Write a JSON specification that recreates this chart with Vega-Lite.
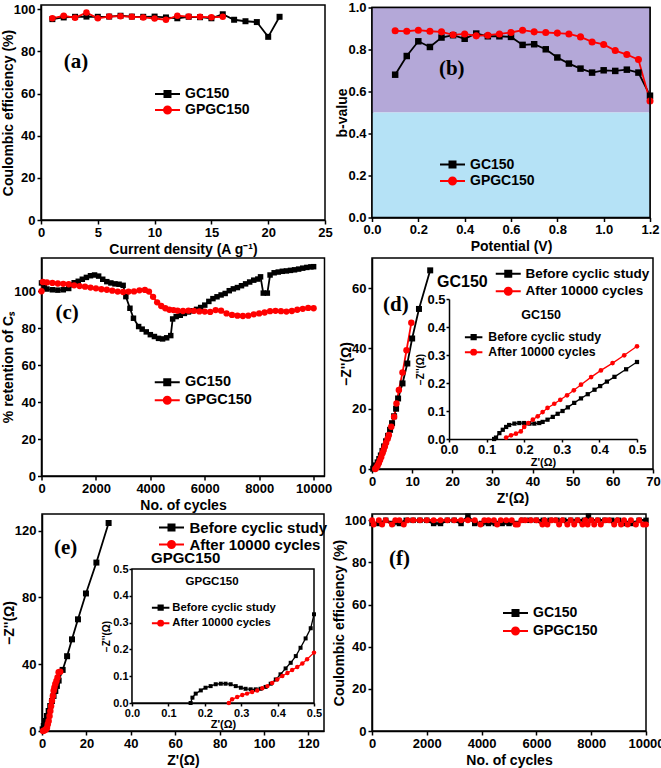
{
"$schema":"https://vega.github.io/schema/vega-lite/v6.json",
"background":"white",
"padding":{"left":0,"top":0,"right":0,"bottom":0},
"config":{
 "font":"Liberation Sans",
 "view":{"stroke":"black","strokeWidth":1.5},
 "axis":{"domainColor":"black","domainWidth":1.5,"tickColor":"black","tickWidth":1.5,"tickSize":4,"labelFont":"Liberation Sans","labelFontWeight":"bold","labelFontSize":13,"labelColor":"black","labelPadding":2,"labelFlush":false,"labelOverlap":false,"titleFont":"Liberation Sans","titleFontWeight":"bold","titleFontSize":14,"titleColor":"black","titlePadding":3,"grid":false,"zindex":1},
 "axisY":{"titlePadding":-2},
 "legend":{"labelFont":"Liberation Sans","labelFontWeight":"bold","labelColor":"black","padding":0,"symbolStrokeWidth":2,"symbolOpacity":1,"labelLimit":400},
 "text":{"font":"Liberation Sans","fontWeight":"bold","color":"black"}
},
"columns":2,
"spacing":{"row":38,"column":47},
"bounds":"flush",
"center":true,
"resolve":{"scale":{"color":"independent","shape":"independent","fill":"independent","stroke":"independent"}},
"concat":[
  {"width":284,"height":215,
   "data":{"values":[
    {"x":1,"y":95.3,"s":"GC150"},{"x":2,"y":96.1,"s":"GC150"},{"x":3,"y":96.4,"s":"GC150"},{"x":4,"y":96.5,"s":"GC150"},{"x":5,"y":96.4,"s":"GC150"},{"x":6,"y":96.5,"s":"GC150"},{"x":7,"y":96.9,"s":"GC150"},{"x":8,"y":96.5,"s":"GC150"},{"x":9,"y":96.4,"s":"GC150"},{"x":10,"y":96.5,"s":"GC150"},{"x":11,"y":96.1,"s":"GC150"},{"x":12,"y":95.7,"s":"GC150"},{"x":13,"y":96.4,"s":"GC150"},{"x":14,"y":96.2,"s":"GC150"},{"x":15,"y":95.7,"s":"GC150"},{"x":16,"y":97.6,"s":"GC150"},{"x":17,"y":95.0,"s":"GC150"},{"x":18,"y":94.3,"s":"GC150"},{"x":19,"y":93.9,"s":"GC150"},{"x":20,"y":86.9,"s":"GC150"},{"x":21,"y":96.4,"s":"GC150"},
    {"x":1,"y":95.7,"s":"GPGC150"},{"x":2,"y":96.9,"s":"GPGC150"},{"x":3,"y":95.9,"s":"GPGC150"},{"x":4,"y":98.4,"s":"GPGC150"},{"x":5,"y":95.7,"s":"GPGC150"},{"x":6,"y":96.5,"s":"GPGC150"},{"x":7,"y":96.7,"s":"GPGC150"},{"x":8,"y":96.4,"s":"GPGC150"},{"x":9,"y":96.1,"s":"GPGC150"},{"x":10,"y":95.6,"s":"GPGC150"},{"x":11,"y":95.0,"s":"GPGC150"},{"x":12,"y":96.9,"s":"GPGC150"},{"x":13,"y":96.5,"s":"GPGC150"},{"x":14,"y":96.4,"s":"GPGC150"},{"x":15,"y":96.2,"s":"GPGC150"},{"x":16,"y":96.4,"s":"GPGC150"}
   ]},
   "layer":[
    {"mark":{"type":"point","opacity":0,"size":100,"strokeWidth":2,"filled":true},
     "encoding":{
      "x":{"field":"x","type":"quantitative","scale":{"domain":[0,25],"nice":false}},
      "y":{"field":"y","type":"quantitative","scale":{"domain":[0,102],"nice":false}},
      "fill":{"field":"s","type":"nominal","scale":{"domain":["GC150","GPGC150"],"range":["black","#ff0000"]},"legend":{"orient":"none","legendX":119.5,"legendY":82,"title":null,"symbolSize":100,"labelFontSize":14,"rowPadding":1,"labelOffset":10.5}},
      "stroke":{"field":"s","type":"nominal","scale":{"domain":["GC150","GPGC150"],"range":["black","#ff0000"]},"legend":{"orient":"none","legendX":119.5,"legendY":82,"title":null,"symbolSize":100,"labelFontSize":14,"rowPadding":1,"labelOffset":10.5}},
      "shape":{"field":"s","type":"nominal","scale":{"domain":["GC150","GPGC150"],"range":["M-2.5,0H2.5M-0.6,-0.6H0.6V0.6H-0.6Z","M-2.5,0H2.5M0.7,0A0.7,0.7,0,1,1,-0.7,0A0.7,0.7,0,1,1,0.7,0Z"]},"legend":{"orient":"none","legendX":119.5,"legendY":82,"title":null,"symbolSize":100,"labelFontSize":14,"rowPadding":1,"labelOffset":10.5}}}},
    {"mark":{"type":"line","strokeWidth":1.8},
     "encoding":{
      "x":{"field":"x","type":"quantitative","scale":{"domain":[0,25],"nice":false},"axis":{"values":[0,2.5,5,7.5,10,12.5,15,17.5,20,22.5,25],"labelExpr":"datum.value % 5 === 0 ? datum.label : ''","tickSize":{"condition":{"test":"datum.value % 5 !== 0","value":2.5},"value":4},"title":"Current density (A g⁻¹)"}},
      "y":{"field":"y","type":"quantitative","scale":{"domain":[0,102],"nice":false},"axis":{"values":[0,10,20,30,40,50,60,70,80,90,100],"labelExpr":"datum.value % 20 === 0 ? datum.label : ''","tickSize":{"condition":{"test":"datum.value % 20 !== 0","value":2.5},"value":4},"title":"Coulombic efficiency (%)"}},
      "stroke":{"field":"s","type":"nominal","scale":{"domain":["GC150","GPGC150"],"range":["black","#ff0000"]},"legend":{"orient":"none","legendX":119.5,"legendY":82,"title":null,"symbolSize":100,"labelFontSize":14,"rowPadding":1,"labelOffset":10.5}}}},
    {"transform":[{"filter":"datum.s == 'GC150'"}],"mark":{"type":"square","size":36,"opacity":1,"color":"black"},
     "encoding":{"x":{"field":"x","type":"quantitative","scale":{"domain":[0,25],"nice":false}},"y":{"field":"y","type":"quantitative","scale":{"domain":[0,102],"nice":false}}}},
    {"transform":[{"filter":"datum.s == 'GPGC150'"}],"mark":{"type":"circle","size":42,"opacity":1,"color":"#ff0000"},
     "encoding":{"x":{"field":"x","type":"quantitative","scale":{"domain":[0,25],"nice":false}},"y":{"field":"y","type":"quantitative","scale":{"domain":[0,102],"nice":false}}}},
    {"data":{"values":[{}]},
     "mark":{"type":"text","text":"(a)","font":"Liberation Serif","fontSize":21,"fontWeight":"bold","align":"left","baseline":"middle","color":"black"},
     "encoding":{"x":{"datum":2,"type":"quantitative","scale":{"domain":[0,25],"nice":false}},"y":{"datum":75,"type":"quantitative","scale":{"domain":[0,102],"nice":false}}}}
   ]},
  {"width":278,"height":210,
   "data":{"values":[
    {"x":0.1,"y":0.680,"s":"GC150"},{"x":0.15,"y":0.769,"s":"GC150"},{"x":0.2,"y":0.839,"s":"GC150"},{"x":0.25,"y":0.812,"s":"GC150"},{"x":0.3,"y":0.857,"s":"GC150"},{"x":0.35,"y":0.868,"s":"GC150"},{"x":0.4,"y":0.851,"s":"GC150"},{"x":0.45,"y":0.876,"s":"GC150"},{"x":0.5,"y":0.863,"s":"GC150"},{"x":0.55,"y":0.863,"s":"GC150"},{"x":0.6,"y":0.860,"s":"GC150"},{"x":0.65,"y":0.822,"s":"GC150"},{"x":0.7,"y":0.825,"s":"GC150"},{"x":0.75,"y":0.801,"s":"GC150"},{"x":0.8,"y":0.762,"s":"GC150"},{"x":0.85,"y":0.733,"s":"GC150"},{"x":0.9,"y":0.709,"s":"GC150"},{"x":0.95,"y":0.690,"s":"GC150"},{"x":1.0,"y":0.701,"s":"GC150"},{"x":1.05,"y":0.698,"s":"GC150"},{"x":1.1,"y":0.704,"s":"GC150"},{"x":1.15,"y":0.690,"s":"GC150"},{"x":1.2,"y":0.58,"s":"GC150"},
    {"x":0.1,"y":0.889,"s":"GPGC150"},{"x":0.15,"y":0.887,"s":"GPGC150"},{"x":0.2,"y":0.892,"s":"GPGC150"},{"x":0.25,"y":0.887,"s":"GPGC150"},{"x":0.3,"y":0.884,"s":"GPGC150"},{"x":0.35,"y":0.870,"s":"GPGC150"},{"x":0.4,"y":0.874,"s":"GPGC150"},{"x":0.45,"y":0.865,"s":"GPGC150"},{"x":0.5,"y":0.868,"s":"GPGC150"},{"x":0.55,"y":0.874,"s":"GPGC150"},{"x":0.6,"y":0.881,"s":"GPGC150"},{"x":0.65,"y":0.892,"s":"GPGC150"},{"x":0.7,"y":0.884,"s":"GPGC150"},{"x":0.75,"y":0.881,"s":"GPGC150"},{"x":0.8,"y":0.878,"s":"GPGC150"},{"x":0.85,"y":0.874,"s":"GPGC150"},{"x":0.9,"y":0.860,"s":"GPGC150"},{"x":0.95,"y":0.836,"s":"GPGC150"},{"x":1.0,"y":0.824,"s":"GPGC150"},{"x":1.05,"y":0.795,"s":"GPGC150"},{"x":1.1,"y":0.776,"s":"GPGC150"},{"x":1.15,"y":0.752,"s":"GPGC150"},{"x":1.2,"y":0.555,"s":"GPGC150"}
   ]},
   "layer":[
    {"data":{"values":[{}]},"mark":{"type":"rect","color":"#b4a8d8"},
     "encoding":{"x":{"datum":0,"type":"quantitative","scale":{"domain":[0,1.2],"nice":false}},"x2":{"datum":1.2},"y":{"datum":0.5,"type":"quantitative","scale":{"domain":[0,1],"nice":false}},"y2":{"datum":1}}},
    {"data":{"values":[{}]},"mark":{"type":"rect","color":"#b5e2f6"},
     "encoding":{"x":{"datum":0,"type":"quantitative","scale":{"domain":[0,1.2],"nice":false}},"x2":{"datum":1.2},"y":{"datum":0,"type":"quantitative","scale":{"domain":[0,1],"nice":false}},"y2":{"datum":0.5}}},
    {"mark":{"type":"point","opacity":0,"size":100,"strokeWidth":2,"filled":true},
     "encoding":{
      "x":{"field":"x","type":"quantitative","scale":{"domain":[0,1.2],"nice":false}},
      "y":{"field":"y","type":"quantitative","scale":{"domain":[0,1],"nice":false}},
      "fill":{"field":"s","type":"nominal","scale":{"domain":["GC150","GPGC150"],"range":["black","#ff0000"]},"legend":{"orient":"none","legendX":73.5,"legendY":150,"title":null,"symbolSize":100,"labelFontSize":14,"rowPadding":1.5,"labelOffset":10.5}},
      "stroke":{"field":"s","type":"nominal","scale":{"domain":["GC150","GPGC150"],"range":["black","#ff0000"]},"legend":{"orient":"none","legendX":73.5,"legendY":150,"title":null,"symbolSize":100,"labelFontSize":14,"rowPadding":1.5,"labelOffset":10.5}},
      "shape":{"field":"s","type":"nominal","scale":{"domain":["GC150","GPGC150"],"range":["M-2.5,0H2.5M-0.6,-0.6H0.6V0.6H-0.6Z","M-2.5,0H2.5M0.7,0A0.7,0.7,0,1,1,-0.7,0A0.7,0.7,0,1,1,0.7,0Z"]},"legend":{"orient":"none","legendX":73.5,"legendY":150,"title":null,"symbolSize":100,"labelFontSize":14,"rowPadding":1.5,"labelOffset":10.5}}}},
    {"mark":{"type":"line","strokeWidth":1.8},
     "encoding":{
      "x":{"field":"x","type":"quantitative","scale":{"domain":[0,1.2],"nice":false},"axis":{"values":[0,0.1,0.2,0.3,0.4,0.5,0.6,0.7,0.8,0.9,1,1.1,1.2],"format":".1f","labelExpr":"round(datum.value*10) % 2 === 0 ? datum.label : ''","tickSize":{"condition":{"test":"round(datum.value*10) % 2 !== 0","value":2.5},"value":4},"title":"Potential (V)"}},
      "y":{"field":"y","type":"quantitative","scale":{"domain":[0,1],"nice":false},"axis":{"values":[0,0.1,0.2,0.3,0.4,0.5,0.6,0.7,0.8,0.9,1],"format":".1f","title":"b-value"}},
      "stroke":{"field":"s","type":"nominal","scale":{"domain":["GC150","GPGC150"],"range":["black","#ff0000"]},"legend":{"orient":"none","legendX":73.5,"legendY":150,"title":null,"symbolSize":100,"labelFontSize":14,"rowPadding":1.5,"labelOffset":10.5}}}},
    {"transform":[{"filter":"datum.s == 'GC150'"}],"mark":{"type":"square","size":42,"opacity":1,"color":"black"},
     "encoding":{"x":{"field":"x","type":"quantitative","scale":{"domain":[0,1.2],"nice":false}},"y":{"field":"y","type":"quantitative","scale":{"domain":[0,1],"nice":false}}}},
    {"transform":[{"filter":"datum.s == 'GPGC150'"}],"mark":{"type":"circle","size":50,"opacity":1,"color":"#ff0000"},
     "encoding":{"x":{"field":"x","type":"quantitative","scale":{"domain":[0,1.2],"nice":false}},"y":{"field":"y","type":"quantitative","scale":{"domain":[0,1],"nice":false}}}},
    {"data":{"values":[{}]},"mark":{"type":"rect","filled":false,"color":"black","strokeWidth":1.5},
     "encoding":{"x":{"datum":0,"type":"quantitative","scale":{"domain":[0,1.2],"nice":false}},"x2":{"datum":1.2},"y":{"datum":0,"type":"quantitative","scale":{"domain":[0,1],"nice":false}},"y2":{"datum":1}}},
    {"data":{"values":[{}]},
     "mark":{"type":"text","text":"(b)","font":"Liberation Serif","fontSize":21,"fontWeight":"bold","align":"left","baseline":"middle","color":"black"},
     "encoding":{"x":{"datum":0.289,"type":"quantitative","scale":{"domain":[0,1.2],"nice":false}},"y":{"datum":0.705,"type":"quantitative","scale":{"domain":[0,1],"nice":false}}}}
   ]},
  {"width":283,"height":218,
   "data":{"values":[
    {"x":0,"y":104.5,"s":"GC150"},{"x":100,"y":102,"s":"GC150"},{"x":200,"y":101.2,"s":"GC150"},{"x":400,"y":100.8,"s":"GC150"},{"x":600,"y":100.6,"s":"GC150"},{"x":800,"y":100.8,"s":"GC150"},{"x":1000,"y":101.5,"s":"GC150"},{"x":1100,"y":103.5,"s":"GC150"},{"x":1200,"y":104.6,"s":"GC150"},{"x":1350,"y":105.4,"s":"GC150"},{"x":1500,"y":106.5,"s":"GC150"},{"x":1650,"y":107.5,"s":"GC150"},{"x":1800,"y":108.4,"s":"GC150"},{"x":1950,"y":108.8,"s":"GC150"},{"x":2100,"y":108.2,"s":"GC150"},{"x":2250,"y":106.5,"s":"GC150"},{"x":2400,"y":105.2,"s":"GC150"},{"x":2550,"y":104.5,"s":"GC150"},{"x":2700,"y":104,"s":"GC150"},{"x":2850,"y":103.8,"s":"GC150"},{"x":3000,"y":103.2,"s":"GC150"},{"x":3100,"y":97.1,"s":"GC150"},{"x":3250,"y":90.8,"s":"GC150"},{"x":3380,"y":85.4,"s":"GC150"},{"x":3570,"y":80.9,"s":"GC150"},{"x":3700,"y":79.5,"s":"GC150"},{"x":3850,"y":78,"s":"GC150"},{"x":4000,"y":76.5,"s":"GC150"},{"x":4150,"y":75.5,"s":"GC150"},{"x":4300,"y":74.5,"s":"GC150"},{"x":4450,"y":74.2,"s":"GC150"},{"x":4600,"y":74.8,"s":"GC150"},{"x":4750,"y":76,"s":"GC150"},{"x":4820,"y":85,"s":"GC150"},{"x":4950,"y":86.3,"s":"GC150"},{"x":5100,"y":87,"s":"GC150"},{"x":5250,"y":88,"s":"GC150"},{"x":5400,"y":88.8,"s":"GC150"},{"x":5550,"y":89.4,"s":"GC150"},{"x":5700,"y":90.2,"s":"GC150"},{"x":5850,"y":91.2,"s":"GC150"},{"x":6000,"y":92.5,"s":"GC150"},{"x":6150,"y":94.5,"s":"GC150"},{"x":6300,"y":96,"s":"GC150"},{"x":6450,"y":97,"s":"GC150"},{"x":6600,"y":98,"s":"GC150"},{"x":6750,"y":98.8,"s":"GC150"},{"x":6900,"y":100.3,"s":"GC150"},{"x":7050,"y":101.3,"s":"GC150"},{"x":7200,"y":102,"s":"GC150"},{"x":7350,"y":103,"s":"GC150"},{"x":7500,"y":104,"s":"GC150"},{"x":7650,"y":105,"s":"GC150"},{"x":7800,"y":106,"s":"GC150"},{"x":7950,"y":106.6,"s":"GC150"},{"x":8050,"y":107.8,"s":"GC150"},{"x":8150,"y":99,"s":"GC150"},{"x":8300,"y":99,"s":"GC150"},{"x":8400,"y":108.8,"s":"GC150"},{"x":8550,"y":110,"s":"GC150"},{"x":8700,"y":110.4,"s":"GC150"},{"x":8850,"y":110.8,"s":"GC150"},{"x":9000,"y":111,"s":"GC150"},{"x":9150,"y":111.3,"s":"GC150"},{"x":9300,"y":111.6,"s":"GC150"},{"x":9450,"y":112,"s":"GC150"},{"x":9600,"y":112.5,"s":"GC150"},{"x":9750,"y":112.9,"s":"GC150"},{"x":9900,"y":113.2,"s":"GC150"},{"x":10000,"y":113.3,"s":"GC150"},
    {"x":0,"y":100,"s":"GPGC150"},{"x":50,"y":105,"s":"GPGC150"},{"x":200,"y":104.8,"s":"GPGC150"},{"x":400,"y":104.5,"s":"GPGC150"},{"x":600,"y":104.2,"s":"GPGC150"},{"x":800,"y":104,"s":"GPGC150"},{"x":1000,"y":103.8,"s":"GPGC150"},{"x":1200,"y":103.2,"s":"GPGC150"},{"x":1400,"y":102.8,"s":"GPGC150"},{"x":1600,"y":102.5,"s":"GPGC150"},{"x":1800,"y":102,"s":"GPGC150"},{"x":2000,"y":101.6,"s":"GPGC150"},{"x":2200,"y":101.1,"s":"GPGC150"},{"x":2400,"y":100.8,"s":"GPGC150"},{"x":2600,"y":100.3,"s":"GPGC150"},{"x":2800,"y":99.8,"s":"GPGC150"},{"x":3000,"y":99.6,"s":"GPGC150"},{"x":3200,"y":99.8,"s":"GPGC150"},{"x":3400,"y":99.9,"s":"GPGC150"},{"x":3600,"y":100.5,"s":"GPGC150"},{"x":3800,"y":100.7,"s":"GPGC150"},{"x":3950,"y":99.8,"s":"GPGC150"},{"x":4100,"y":97,"s":"GPGC150"},{"x":4250,"y":94,"s":"GPGC150"},{"x":4400,"y":92,"s":"GPGC150"},{"x":4550,"y":90.8,"s":"GPGC150"},{"x":4700,"y":90,"s":"GPGC150"},{"x":4850,"y":89.8,"s":"GPGC150"},{"x":5000,"y":89.5,"s":"GPGC150"},{"x":5200,"y":89.3,"s":"GPGC150"},{"x":5400,"y":89.5,"s":"GPGC150"},{"x":5600,"y":89.4,"s":"GPGC150"},{"x":5800,"y":89.1,"s":"GPGC150"},{"x":6000,"y":89,"s":"GPGC150"},{"x":6200,"y":88.8,"s":"GPGC150"},{"x":6400,"y":89.8,"s":"GPGC150"},{"x":6600,"y":89.5,"s":"GPGC150"},{"x":6800,"y":88,"s":"GPGC150"},{"x":7000,"y":87.2,"s":"GPGC150"},{"x":7200,"y":86.8,"s":"GPGC150"},{"x":7400,"y":86.6,"s":"GPGC150"},{"x":7600,"y":86.8,"s":"GPGC150"},{"x":7800,"y":87.5,"s":"GPGC150"},{"x":8000,"y":88,"s":"GPGC150"},{"x":8200,"y":88.5,"s":"GPGC150"},{"x":8400,"y":89.2,"s":"GPGC150"},{"x":8600,"y":89.4,"s":"GPGC150"},{"x":8800,"y":89.2,"s":"GPGC150"},{"x":9000,"y":89,"s":"GPGC150"},{"x":9200,"y":89.3,"s":"GPGC150"},{"x":9400,"y":90,"s":"GPGC150"},{"x":9600,"y":90.5,"s":"GPGC150"},{"x":9800,"y":91,"s":"GPGC150"},{"x":10000,"y":90.8,"s":"GPGC150"}
   ]},
   "layer":[
    {"mark":{"type":"point","opacity":0,"size":100,"strokeWidth":2,"filled":true},
     "encoding":{
      "x":{"field":"x","type":"quantitative","scale":{"domain":[0,10400],"nice":false}},
      "y":{"field":"y","type":"quantitative","scale":{"domain":[0,118],"nice":false}},
      "fill":{"field":"s","type":"nominal","scale":{"domain":["GC150","GPGC150"],"range":["black","#ff0000"]},"legend":{"orient":"none","legendX":118.5,"legendY":117,"title":null,"symbolSize":100,"labelFontSize":14.5,"rowPadding":2,"labelOffset":10.5}},
      "stroke":{"field":"s","type":"nominal","scale":{"domain":["GC150","GPGC150"],"range":["black","#ff0000"]},"legend":{"orient":"none","legendX":118.5,"legendY":117,"title":null,"symbolSize":100,"labelFontSize":14.5,"rowPadding":2,"labelOffset":10.5}},
      "shape":{"field":"s","type":"nominal","scale":{"domain":["GC150","GPGC150"],"range":["M-2.5,0H2.5M-0.6,-0.6H0.6V0.6H-0.6Z","M-2.5,0H2.5M0.7,0A0.7,0.7,0,1,1,-0.7,0A0.7,0.7,0,1,1,0.7,0Z"]},"legend":{"orient":"none","legendX":118.5,"legendY":117,"title":null,"symbolSize":100,"labelFontSize":14.5,"rowPadding":2,"labelOffset":10.5}}}},
    {"mark":{"type":"line","strokeWidth":1.8},
     "encoding":{
      "x":{"field":"x","type":"quantitative","scale":{"domain":[0,10400],"nice":false},"axis":{"values":[0,1000,2000,3000,4000,5000,6000,7000,8000,9000,10000],"format":"d","labelExpr":"datum.value % 2000 === 0 ? datum.label : ''","tickSize":{"condition":{"test":"datum.value % 2000 !== 0","value":2.5},"value":4},"title":"No. of cycles"}},
      "y":{"field":"y","type":"quantitative","scale":{"domain":[0,118],"nice":false},"axis":{"values":[0,10,20,30,40,50,60,70,80,90,100,110],"labelExpr":"datum.value % 20 === 0 && datum.value <= 100 ? datum.label : ''","tickSize":{"condition":{"test":"datum.value % 20 !== 0","value":2.5},"value":4},"title":"% retention of Cₛ"}},
      "stroke":{"field":"s","type":"nominal","scale":{"domain":["GC150","GPGC150"],"range":["black","#ff0000"]},"legend":{"orient":"none","legendX":118.5,"legendY":117,"title":null,"symbolSize":100,"labelFontSize":14.5,"rowPadding":2,"labelOffset":10.5}}}},
    {"transform":[{"filter":"datum.s == 'GC150'"}],"mark":{"type":"square","size":30,"opacity":1,"color":"black"},
     "encoding":{"x":{"field":"x","type":"quantitative","scale":{"domain":[0,10400],"nice":false}},"y":{"field":"y","type":"quantitative","scale":{"domain":[0,118],"nice":false}}}},
    {"transform":[{"filter":"datum.s == 'GPGC150'"}],"mark":{"type":"circle","size":40,"opacity":1,"color":"#ff0000"},
     "encoding":{"x":{"field":"x","type":"quantitative","scale":{"domain":[0,10400],"nice":false}},"y":{"field":"y","type":"quantitative","scale":{"domain":[0,118],"nice":false}}}},
    {"data":{"values":[{}]},
     "mark":{"type":"text","text":"(c)","font":"Liberation Serif","fontSize":21,"fontWeight":"bold","align":"left","baseline":"middle","color":"black"},
     "encoding":{"x":{"datum":515,"type":"quantitative","scale":{"domain":[0,10400],"nice":false}},"y":{"datum":88.1,"type":"quantitative","scale":{"domain":[0,118],"nice":false}}}}
   ]},
  {"width":281,"height":211,
   "layer":[
    {"data":{"values":[
      {"x":0.3,"y":0.1,"s":"Before cyclic study"},{"x":0.6,"y":0.5,"s":"Before cyclic study"},{"x":1,"y":1.2,"s":"Before cyclic study"},{"x":1.4,"y":2.2,"s":"Before cyclic study"},{"x":1.8,"y":3.3,"s":"Before cyclic study"},{"x":2.2,"y":4.5,"s":"Before cyclic study"},{"x":2.6,"y":6,"s":"Before cyclic study"},{"x":3,"y":7.5,"s":"Before cyclic study"},{"x":3.5,"y":9.2,"s":"Before cyclic study"},{"x":4,"y":11,"s":"Before cyclic study"},{"x":4.5,"y":13,"s":"Before cyclic study"},{"x":5,"y":15.2,"s":"Before cyclic study"},{"x":5.5,"y":17.5,"s":"Before cyclic study"},{"x":6,"y":20,"s":"Before cyclic study"},{"x":6.5,"y":23.4,"s":"Before cyclic study"},{"x":7.6,"y":28.4,"s":"Before cyclic study"},{"x":8.8,"y":35,"s":"Before cyclic study"},{"x":10,"y":43.3,"s":"Before cyclic study"},{"x":11.7,"y":53.1,"s":"Before cyclic study"},{"x":14.5,"y":65.9,"s":"Before cyclic study"},
      {"x":0.8,"y":0,"s":"After 10000 cycles"},{"x":1.1,"y":0.5,"s":"After 10000 cycles"},{"x":1.4,"y":1.2,"s":"After 10000 cycles"},{"x":1.7,"y":2,"s":"After 10000 cycles"},{"x":2,"y":3,"s":"After 10000 cycles"},{"x":2.3,"y":4,"s":"After 10000 cycles"},{"x":2.6,"y":5.2,"s":"After 10000 cycles"},{"x":2.9,"y":6.3,"s":"After 10000 cycles"},{"x":3.2,"y":7.5,"s":"After 10000 cycles"},{"x":3.5,"y":8.7,"s":"After 10000 cycles"},{"x":3.9,"y":10,"s":"After 10000 cycles"},{"x":4.2,"y":11.3,"s":"After 10000 cycles"},{"x":4.8,"y":14,"s":"After 10000 cycles"},{"x":5.5,"y":17.3,"s":"After 10000 cycles"},{"x":6.1,"y":21.7,"s":"After 10000 cycles"},{"x":6.7,"y":26.2,"s":"After 10000 cycles"},{"x":7.6,"y":32,"s":"After 10000 cycles"},{"x":8.6,"y":39.4,"s":"After 10000 cycles"},{"x":9.8,"y":48.5,"s":"After 10000 cycles"}
     ]},
     "layer":[
      {"mark":{"type":"point","opacity":0,"size":100,"strokeWidth":2,"filled":true},
       "encoding":{
        "x":{"field":"x","type":"quantitative","scale":{"domain":[0,70],"nice":false}},
        "y":{"field":"y","type":"quantitative","scale":{"domain":[0,70],"nice":false}},
        "fill":{"field":"s","type":"nominal","scale":{"domain":["Before cyclic study","After 10000 cycles"],"range":["black","#ff0000"]},"legend":{"orient":"none","legendX":129.5,"legendY":9,"title":null,"symbolSize":100,"labelFontSize":13.5,"rowPadding":2.5,"labelOffset":10.5}},
        "stroke":{"field":"s","type":"nominal","scale":{"domain":["Before cyclic study","After 10000 cycles"],"range":["black","#ff0000"]},"legend":{"orient":"none","legendX":129.5,"legendY":9,"title":null,"symbolSize":100,"labelFontSize":13.5,"rowPadding":2.5,"labelOffset":10.5}},
        "shape":{"field":"s","type":"nominal","scale":{"domain":["Before cyclic study","After 10000 cycles"],"range":["M-2.5,0H2.5M-0.6,-0.6H0.6V0.6H-0.6Z","M-2.5,0H2.5M0.7,0A0.7,0.7,0,1,1,-0.7,0A0.7,0.7,0,1,1,0.7,0Z"]},"legend":{"orient":"none","legendX":129.5,"legendY":9,"title":null,"symbolSize":100,"labelFontSize":13.5,"rowPadding":2.5,"labelOffset":10.5}}}},
      {"mark":{"type":"line","strokeWidth":1.8},
       "encoding":{
        "x":{"field":"x","type":"quantitative","scale":{"domain":[0,70],"nice":false},"axis":{"values":[0,5,10,15,20,25,30,35,40,45,50,55,60,65,70],"labelExpr":"datum.value % 10 === 0 ? datum.label : ''","tickSize":{"condition":{"test":"datum.value % 10 !== 0","value":2.5},"value":4},"title":"Z'(Ω)"}},
        "y":{"field":"y","type":"quantitative","scale":{"domain":[0,70],"nice":false},"axis":{"values":[0,5,10,15,20,25,30,35,40,45,50,55,60,65,70],"labelExpr":"datum.value % 10 === 0 ? datum.label : ''","tickSize":{"condition":{"test":"datum.value % 10 !== 0","value":2.5},"value":4},"title":"−Z''(Ω)"}},
        "stroke":{"field":"s","type":"nominal","scale":{"domain":["Before cyclic study","After 10000 cycles"],"range":["black","#ff0000"]},"legend":{"orient":"none","legendX":129.5,"legendY":9,"title":null,"symbolSize":100,"labelFontSize":13.5,"rowPadding":2.5,"labelOffset":10.5}}}},
      {"transform":[{"filter":"datum.s == 'Before cyclic study'"}],"mark":{"type":"square","size":36,"opacity":1,"color":"black"},
       "encoding":{"x":{"field":"x","type":"quantitative","scale":{"domain":[0,70],"nice":false}},"y":{"field":"y","type":"quantitative","scale":{"domain":[0,70],"nice":false}}}},
      {"transform":[{"filter":"datum.s == 'After 10000 cycles'"}],"mark":{"type":"circle","size":42,"opacity":1,"color":"#ff0000"},
       "encoding":{"x":{"field":"x","type":"quantitative","scale":{"domain":[0,70],"nice":false}},"y":{"field":"y","type":"quantitative","scale":{"domain":[0,70],"nice":false}}}},
      {"data":{"values":[{}]},
       "mark":{"type":"text","text":"(d)","font":"Liberation Serif","fontSize":21,"fontWeight":"bold","align":"left","baseline":"middle","color":"black"},
       "encoding":{"x":{"datum":2.74,"type":"quantitative","scale":{"domain":[0,70],"nice":false}},"y":{"datum":54.4,"type":"quantitative","scale":{"domain":[0,70],"nice":false}}}},
      {"data":{"values":[{}]},
       "mark":{"type":"text","text":"GC150","fontSize":16,"fontWeight":"bold","align":"left","baseline":"middle","color":"black"},
       "encoding":{"x":{"datum":16.2,"type":"quantitative","scale":{"domain":[0,70],"nice":false}},"y":{"datum":62,"type":"quantitative","scale":{"domain":[0,70],"nice":false}}}}
     ]},
    {"data":{"values":[
      {"x":0.12,"y":0,"s":"Before cyclic study"},{"x":0.125,"y":0.005,"s":"Before cyclic study"},{"x":0.134,"y":0.021,"s":"Before cyclic study"},{"x":0.143,"y":0.033,"s":"Before cyclic study"},{"x":0.152,"y":0.043,"s":"Before cyclic study"},{"x":0.16,"y":0.05,"s":"Before cyclic study"},{"x":0.174,"y":0.055,"s":"Before cyclic study"},{"x":0.187,"y":0.057,"s":"Before cyclic study"},{"x":0.2,"y":0.057,"s":"Before cyclic study"},{"x":0.214,"y":0.055,"s":"Before cyclic study"},{"x":0.227,"y":0.055,"s":"Before cyclic study"},{"x":0.24,"y":0.057,"s":"Before cyclic study"},{"x":0.249,"y":0.061,"s":"Before cyclic study"},{"x":0.262,"y":0.069,"s":"Before cyclic study"},{"x":0.276,"y":0.079,"s":"Before cyclic study"},{"x":0.289,"y":0.09,"s":"Before cyclic study"},{"x":0.302,"y":0.1,"s":"Before cyclic study"},{"x":0.316,"y":0.113,"s":"Before cyclic study"},{"x":0.333,"y":0.129,"s":"Before cyclic study"},{"x":0.351,"y":0.145,"s":"Before cyclic study"},{"x":0.369,"y":0.16,"s":"Before cyclic study"},{"x":0.387,"y":0.176,"s":"Before cyclic study"},{"x":0.402,"y":0.189,"s":"Before cyclic study"},{"x":0.42,"y":0.205,"s":"Before cyclic study"},{"x":0.44,"y":0.222,"s":"Before cyclic study"},{"x":0.471,"y":0.249,"s":"Before cyclic study"},{"x":0.5,"y":0.275,"s":"Before cyclic study"},
      {"x":0.152,"y":0.005,"s":"After 10000 cycles"},{"x":0.165,"y":0.013,"s":"After 10000 cycles"},{"x":0.178,"y":0.019,"s":"After 10000 cycles"},{"x":0.191,"y":0.027,"s":"After 10000 cycles"},{"x":0.2,"y":0.043,"s":"After 10000 cycles"},{"x":0.211,"y":0.057,"s":"After 10000 cycles"},{"x":0.223,"y":0.069,"s":"After 10000 cycles"},{"x":0.236,"y":0.081,"s":"After 10000 cycles"},{"x":0.249,"y":0.096,"s":"After 10000 cycles"},{"x":0.262,"y":0.111,"s":"After 10000 cycles"},{"x":0.28,"y":0.126,"s":"After 10000 cycles"},{"x":0.296,"y":0.14,"s":"After 10000 cycles"},{"x":0.314,"y":0.156,"s":"After 10000 cycles"},{"x":0.332,"y":0.174,"s":"After 10000 cycles"},{"x":0.351,"y":0.194,"s":"After 10000 cycles"},{"x":0.378,"y":0.221,"s":"After 10000 cycles"},{"x":0.404,"y":0.245,"s":"After 10000 cycles"},{"x":0.435,"y":0.271,"s":"After 10000 cycles"},{"x":0.466,"y":0.299,"s":"After 10000 cycles"},{"x":0.5,"y":0.331,"s":"After 10000 cycles"}
     ]},
     "layer":[
      {"mark":{"type":"point","opacity":0,"size":49,"strokeWidth":2,"filled":true},
       "encoding":{
        "x":{"field":"x","type":"quantitative","scale":{"domain":[0,0.5],"range":[77,265],"nice":false,"zero":false}},
        "y":{"field":"y","type":"quantitative","scale":{"domain":[0,0.5],"range":[181,41],"nice":false,"zero":false}},
        "fill":{"field":"s","type":"nominal","scale":{"domain":["Before cyclic study","After 10000 cycles"],"range":["black","#ff0000"]},"legend":{"orient":"none","legendX":95.5,"legendY":73,"title":null,"symbolSize":49,"labelFontSize":12.3,"rowPadding":1,"labelOffset":8.5}},
        "stroke":{"field":"s","type":"nominal","scale":{"domain":["Before cyclic study","After 10000 cycles"],"range":["black","#ff0000"]},"legend":{"orient":"none","legendX":95.5,"legendY":73,"title":null,"symbolSize":49,"labelFontSize":12.3,"rowPadding":1,"labelOffset":8.5}},
        "shape":{"field":"s","type":"nominal","scale":{"domain":["Before cyclic study","After 10000 cycles"],"range":["M-2.5,0H2.5M-0.6,-0.6H0.6V0.6H-0.6Z","M-2.5,0H2.5M0.7,0A0.7,0.7,0,1,1,-0.7,0A0.7,0.7,0,1,1,0.7,0Z"]},"legend":{"orient":"none","legendX":95.5,"legendY":73,"title":null,"symbolSize":49,"labelFontSize":12.3,"rowPadding":1,"labelOffset":8.5}}}},
      {"mark":{"type":"line","strokeWidth":1.3},
       "encoding":{
        "x":{"field":"x","type":"quantitative","scale":{"domain":[0,0.5],"range":[77,265],"nice":false,"zero":false},"axis":{"orient":"bottom","offset":-30,"values":[0,0.1,0.2,0.3,0.4,0.5],"format":".1f","title":"Z'(Ω)","labelFontSize":13,"titleFontSize":11,"titlePadding":0,"tickSize":3,"labelPadding":1}},
        "y":{"field":"y","type":"quantitative","scale":{"domain":[0,0.5],"range":[181,41],"nice":false,"zero":false},"axis":{"orient":"left","offset":-77,"values":[0,0.1,0.2,0.3,0.4,0.5],"format":".1f","title":"−Z''(Ω)","labelFontSize":13,"titleFontSize":10,"titlePadding":1,"tickSize":3,"labelPadding":1}},
        "stroke":{"field":"s","type":"nominal","scale":{"domain":["Before cyclic study","After 10000 cycles"],"range":["black","#ff0000"]},"legend":{"orient":"none","legendX":95.5,"legendY":73,"title":null,"symbolSize":49,"labelFontSize":12.3,"rowPadding":1,"labelOffset":8.5}}}},
      {"transform":[{"filter":"datum.s == 'Before cyclic study'"}],"mark":{"type":"square","size":18,"opacity":1,"color":"black"},
       "encoding":{"x":{"field":"x","type":"quantitative","scale":{"domain":[0,0.5],"range":[77,265],"nice":false,"zero":false}},"y":{"field":"y","type":"quantitative","scale":{"domain":[0,0.5],"range":[181,41],"nice":false,"zero":false}}}},
      {"transform":[{"filter":"datum.s == 'After 10000 cycles'"}],"mark":{"type":"circle","size":22,"opacity":1,"color":"#ff0000"},
       "encoding":{"x":{"field":"x","type":"quantitative","scale":{"domain":[0,0.5],"range":[77,265],"nice":false,"zero":false}},"y":{"field":"y","type":"quantitative","scale":{"domain":[0,0.5],"range":[181,41],"nice":false,"zero":false}}}},
      {"data":{"values":[{}]},
       "mark":{"type":"text","text":"GC150","fontSize":12.5,"fontWeight":"bold","align":"center","baseline":"middle","color":"black"},
       "encoding":{"x":{"datum":0.245,"type":"quantitative","scale":{"domain":[0,0.5],"range":[77,265],"nice":false,"zero":false}},"y":{"datum":0.443,"type":"quantitative","scale":{"domain":[0,0.5],"range":[181,41],"nice":false,"zero":false}}}}
     ]}
   ],
   "resolve":{"scale":{"x":"independent","y":"independent","color":"independent","shape":"independent","fill":"independent","stroke":"independent"}}},
  {"width":282,"height":217,
   "layer":[
    {"data":{"values":[
      {"x":0.3,"y":1,"s":"Before cyclic study"},{"x":0.8,"y":3,"s":"Before cyclic study"},{"x":1.5,"y":6,"s":"Before cyclic study"},{"x":2.2,"y":9,"s":"Before cyclic study"},{"x":3,"y":12,"s":"Before cyclic study"},{"x":3.7,"y":15,"s":"Before cyclic study"},{"x":4.5,"y":18,"s":"Before cyclic study"},{"x":5.2,"y":21,"s":"Before cyclic study"},{"x":6,"y":24,"s":"Before cyclic study"},{"x":6.7,"y":27,"s":"Before cyclic study"},{"x":7.5,"y":30.2,"s":"Before cyclic study"},{"x":9.3,"y":36.6,"s":"Before cyclic study"},{"x":11.3,"y":44.8,"s":"Before cyclic study"},{"x":13.5,"y":54.9,"s":"Before cyclic study"},{"x":16.2,"y":66.9,"s":"Before cyclic study"},{"x":19.8,"y":82.4,"s":"Before cyclic study"},{"x":24.5,"y":100.9,"s":"Before cyclic study"},{"x":30,"y":124.6,"s":"Before cyclic study"},
      {"x":0.5,"y":0,"s":"After 10000 cycles"},{"x":1.2,"y":0.5,"s":"After 10000 cycles"},{"x":1.8,"y":1,"s":"After 10000 cycles"},{"x":2.25,"y":2,"s":"After 10000 cycles"},{"x":2.6,"y":4,"s":"After 10000 cycles"},{"x":3,"y":6,"s":"After 10000 cycles"},{"x":3.4,"y":9,"s":"After 10000 cycles"},{"x":3.75,"y":12,"s":"After 10000 cycles"},{"x":4.1,"y":15,"s":"After 10000 cycles"},{"x":4.5,"y":18.1,"s":"After 10000 cycles"},{"x":4.9,"y":21,"s":"After 10000 cycles"},{"x":5.25,"y":24.1,"s":"After 10000 cycles"},{"x":5.6,"y":26,"s":"After 10000 cycles"},{"x":6,"y":28.1,"s":"After 10000 cycles"},{"x":6.5,"y":30,"s":"After 10000 cycles"},{"x":7,"y":32,"s":"After 10000 cycles"},{"x":7.5,"y":35.2,"s":"After 10000 cycles"},{"x":8.2,"y":35.5,"s":"After 10000 cycles"}
     ]},
     "layer":[
      {"mark":{"type":"point","opacity":0,"size":100,"strokeWidth":2,"filled":true},
       "encoding":{
        "x":{"field":"x","type":"quantitative","scale":{"domain":[0,127],"nice":false}},
        "y":{"field":"y","type":"quantitative","scale":{"domain":[0,130],"nice":false}},
        "fill":{"field":"s","type":"nominal","scale":{"domain":["Before cyclic study","After 10000 cycles"],"range":["black","#ff0000"]},"legend":{"orient":"none","legendX":122,"legendY":6,"title":null,"symbolSize":100,"labelFontSize":15,"rowPadding":1,"labelOffset":10.5}},
        "stroke":{"field":"s","type":"nominal","scale":{"domain":["Before cyclic study","After 10000 cycles"],"range":["black","#ff0000"]},"legend":{"orient":"none","legendX":122,"legendY":6,"title":null,"symbolSize":100,"labelFontSize":15,"rowPadding":1,"labelOffset":10.5}},
        "shape":{"field":"s","type":"nominal","scale":{"domain":["Before cyclic study","After 10000 cycles"],"range":["M-2.5,0H2.5M-0.6,-0.6H0.6V0.6H-0.6Z","M-2.5,0H2.5M0.7,0A0.7,0.7,0,1,1,-0.7,0A0.7,0.7,0,1,1,0.7,0Z"]},"legend":{"orient":"none","legendX":122,"legendY":6,"title":null,"symbolSize":100,"labelFontSize":15,"rowPadding":1,"labelOffset":10.5}}}},
      {"mark":{"type":"line","strokeWidth":1.8},
       "encoding":{
        "x":{"field":"x","type":"quantitative","scale":{"domain":[0,127],"nice":false},"axis":{"values":[0,10,20,30,40,50,60,70,80,90,100,110,120],"labelExpr":"datum.value % 20 === 0 ? datum.label : ''","tickSize":{"condition":{"test":"datum.value % 20 !== 0","value":2.5},"value":4},"title":"Z'(Ω)"}},
        "y":{"field":"y","type":"quantitative","scale":{"domain":[0,130],"nice":false},"axis":{"values":[0,10,20,30,40,50,60,70,80,90,100,110,120,130],"labelExpr":"datum.value % 20 === 0 ? datum.label : ''","tickSize":{"condition":{"test":"datum.value % 20 !== 0","value":2.5},"value":4},"title":"−Z''(Ω)"}},
        "stroke":{"field":"s","type":"nominal","scale":{"domain":["Before cyclic study","After 10000 cycles"],"range":["black","#ff0000"]},"legend":{"orient":"none","legendX":122,"legendY":6,"title":null,"symbolSize":100,"labelFontSize":15,"rowPadding":1,"labelOffset":10.5}}}},
      {"transform":[{"filter":"datum.s == 'Before cyclic study'"}],"mark":{"type":"square","size":36,"opacity":1,"color":"black"},
       "encoding":{"x":{"field":"x","type":"quantitative","scale":{"domain":[0,127],"nice":false}},"y":{"field":"y","type":"quantitative","scale":{"domain":[0,130],"nice":false}}}},
      {"transform":[{"filter":"datum.s == 'After 10000 cycles'"}],"mark":{"type":"circle","size":42,"opacity":1,"color":"#ff0000"},
       "encoding":{"x":{"field":"x","type":"quantitative","scale":{"domain":[0,127],"nice":false}},"y":{"field":"y","type":"quantitative","scale":{"domain":[0,130],"nice":false}}}},
      {"data":{"values":[{}]},
       "mark":{"type":"text","text":"(e)","font":"Liberation Serif","fontSize":21,"fontWeight":"bold","align":"left","baseline":"middle","color":"black"},
       "encoding":{"x":{"datum":5.4,"type":"quantitative","scale":{"domain":[0,127],"nice":false}},"y":{"datum":109.6,"type":"quantitative","scale":{"domain":[0,130],"nice":false}}}},
      {"data":{"values":[{}]},
       "mark":{"type":"text","text":"GPGC150","fontSize":15,"fontWeight":"bold","align":"left","baseline":"middle","color":"black"},
       "encoding":{"x":{"datum":49.1,"type":"quantitative","scale":{"domain":[0,127],"nice":false}},"y":{"datum":103.7,"type":"quantitative","scale":{"domain":[0,130],"nice":false}}}}
     ]},
    {"data":{"values":[
      {"x":0.161,"y":0,"s":"Before cyclic study"},{"x":0.166,"y":0.02,"s":"Before cyclic study"},{"x":0.175,"y":0.035,"s":"Before cyclic study"},{"x":0.189,"y":0.047,"s":"Before cyclic study"},{"x":0.202,"y":0.057,"s":"Before cyclic study"},{"x":0.216,"y":0.063,"s":"Before cyclic study"},{"x":0.23,"y":0.07,"s":"Before cyclic study"},{"x":0.244,"y":0.072,"s":"Before cyclic study"},{"x":0.257,"y":0.072,"s":"Before cyclic study"},{"x":0.271,"y":0.07,"s":"Before cyclic study"},{"x":0.285,"y":0.063,"s":"Before cyclic study"},{"x":0.299,"y":0.057,"s":"Before cyclic study"},{"x":0.312,"y":0.053,"s":"Before cyclic study"},{"x":0.326,"y":0.051,"s":"Before cyclic study"},{"x":0.34,"y":0.051,"s":"Before cyclic study"},{"x":0.353,"y":0.053,"s":"Before cyclic study"},{"x":0.367,"y":0.06,"s":"Before cyclic study"},{"x":0.381,"y":0.072,"s":"Before cyclic study"},{"x":0.395,"y":0.088,"s":"Before cyclic study"},{"x":0.408,"y":0.107,"s":"Before cyclic study"},{"x":0.422,"y":0.129,"s":"Before cyclic study"},{"x":0.436,"y":0.15,"s":"Before cyclic study"},{"x":0.45,"y":0.175,"s":"Before cyclic study"},{"x":0.463,"y":0.206,"s":"Before cyclic study"},{"x":0.477,"y":0.241,"s":"Before cyclic study"},{"x":0.491,"y":0.279,"s":"Before cyclic study"},{"x":0.5,"y":0.331,"s":"Before cyclic study"},
      {"x":0.266,"y":0,"s":"After 10000 cycles"},{"x":0.275,"y":0.014,"s":"After 10000 cycles"},{"x":0.289,"y":0.022,"s":"After 10000 cycles"},{"x":0.303,"y":0.03,"s":"After 10000 cycles"},{"x":0.316,"y":0.035,"s":"After 10000 cycles"},{"x":0.33,"y":0.041,"s":"After 10000 cycles"},{"x":0.344,"y":0.047,"s":"After 10000 cycles"},{"x":0.358,"y":0.055,"s":"After 10000 cycles"},{"x":0.372,"y":0.063,"s":"After 10000 cycles"},{"x":0.385,"y":0.075,"s":"After 10000 cycles"},{"x":0.399,"y":0.088,"s":"After 10000 cycles"},{"x":0.413,"y":0.101,"s":"After 10000 cycles"},{"x":0.427,"y":0.112,"s":"After 10000 cycles"},{"x":0.44,"y":0.123,"s":"After 10000 cycles"},{"x":0.454,"y":0.134,"s":"After 10000 cycles"},{"x":0.468,"y":0.147,"s":"After 10000 cycles"},{"x":0.481,"y":0.163,"s":"After 10000 cycles"},{"x":0.5,"y":0.188,"s":"After 10000 cycles"}
     ]},
     "layer":[
      {"data":{"values":[{}]},
       "mark":{"type":"rect","fill":"white","stroke":"black","strokeWidth":1.5},
       "encoding":{"x":{"datum":0,"type":"quantitative","scale":{"domain":[0,0.5],"range":[90,272],"nice":false,"zero":false}},"x2":{"datum":0.5},"y":{"datum":0,"type":"quantitative","scale":{"domain":[0,0.5],"range":[189,55],"nice":false,"zero":false}},"y2":{"datum":0.5}}},
      {"mark":{"type":"point","opacity":0,"size":49,"strokeWidth":2,"filled":true},
       "encoding":{
        "x":{"field":"x","type":"quantitative","scale":{"domain":[0,0.5],"range":[90,272],"nice":false,"zero":false}},
        "y":{"field":"y","type":"quantitative","scale":{"domain":[0,0.5],"range":[189,55],"nice":false,"zero":false}},
        "fill":{"field":"s","type":"nominal","scale":{"domain":["Before cyclic study","After 10000 cycles"],"range":["black","#ff0000"]},"legend":{"orient":"none","legendX":113,"legendY":88,"title":null,"symbolSize":49,"labelFontSize":11.3,"rowPadding":2.5,"labelOffset":6}},
        "stroke":{"field":"s","type":"nominal","scale":{"domain":["Before cyclic study","After 10000 cycles"],"range":["black","#ff0000"]},"legend":{"orient":"none","legendX":113,"legendY":88,"title":null,"symbolSize":49,"labelFontSize":11.3,"rowPadding":2.5,"labelOffset":6}},
        "shape":{"field":"s","type":"nominal","scale":{"domain":["Before cyclic study","After 10000 cycles"],"range":["M-2.5,0H2.5M-0.6,-0.6H0.6V0.6H-0.6Z","M-2.5,0H2.5M0.7,0A0.7,0.7,0,1,1,-0.7,0A0.7,0.7,0,1,1,0.7,0Z"]},"legend":{"orient":"none","legendX":113,"legendY":88,"title":null,"symbolSize":49,"labelFontSize":11.3,"rowPadding":2.5,"labelOffset":6}}}},
      {"mark":{"type":"line","strokeWidth":1.3},
       "encoding":{
        "x":{"field":"x","type":"quantitative","scale":{"domain":[0,0.5],"range":[90,272],"nice":false,"zero":false},"axis":{"orient":"bottom","offset":-28,"values":[0,0.1,0.2,0.3,0.4,0.5],"format":".1f","title":"Z'(Ω)","labelFontSize":11,"titleFontSize":11,"titlePadding":0,"tickSize":3,"labelPadding":1}},
        "y":{"field":"y","type":"quantitative","scale":{"domain":[0,0.5],"range":[189,55],"nice":false,"zero":false},"axis":{"orient":"left","offset":-90,"values":[0,0.1,0.2,0.3,0.4,0.5],"format":".1f","title":"−Z''(Ω)","labelFontSize":11,"titleFontSize":10,"titlePadding":1,"tickSize":3,"labelPadding":1}},
        "stroke":{"field":"s","type":"nominal","scale":{"domain":["Before cyclic study","After 10000 cycles"],"range":["black","#ff0000"]},"legend":{"orient":"none","legendX":113,"legendY":88,"title":null,"symbolSize":49,"labelFontSize":11.3,"rowPadding":2.5,"labelOffset":6}}}},
      {"transform":[{"filter":"datum.s == 'Before cyclic study'"}],"mark":{"type":"square","size":16,"opacity":1,"color":"black"},
       "encoding":{"x":{"field":"x","type":"quantitative","scale":{"domain":[0,0.5],"range":[90,272],"nice":false,"zero":false}},"y":{"field":"y","type":"quantitative","scale":{"domain":[0,0.5],"range":[189,55],"nice":false,"zero":false}}}},
      {"transform":[{"filter":"datum.s == 'After 10000 cycles'"}],"mark":{"type":"circle","size":20,"opacity":1,"color":"#ff0000"},
       "encoding":{"x":{"field":"x","type":"quantitative","scale":{"domain":[0,0.5],"range":[90,272],"nice":false,"zero":false}},"y":{"field":"y","type":"quantitative","scale":{"domain":[0,0.5],"range":[189,55],"nice":false,"zero":false}}}},
      {"data":{"values":[{}]},
       "mark":{"type":"text","text":"GPGC150","fontSize":11.5,"fontWeight":"bold","align":"center","baseline":"middle","color":"black"},
       "encoding":{"x":{"datum":0.22,"type":"quantitative","scale":{"domain":[0,0.5],"range":[90,272],"nice":false,"zero":false}},"y":{"datum":0.451,"type":"quantitative","scale":{"domain":[0,0.5],"range":[189,55],"nice":false,"zero":false}}}}
     ]}
   ],
   "resolve":{"scale":{"x":"independent","y":"independent","color":"independent","shape":"independent","fill":"independent","stroke":"independent"}}},
  {"width":274,"height":217,
   "data":{"values":[
    {"x":0,"y":98.5,"s":"GC150"},{"x":250,"y":98.5,"s":"GC150"},{"x":500,"y":100,"s":"GC150"},{"x":750,"y":98.5,"s":"GC150"},{"x":1000,"y":98.5,"s":"GC150"},{"x":1250,"y":100,"s":"GC150"},{"x":1500,"y":100,"s":"GC150"},{"x":1750,"y":100,"s":"GC150"},{"x":2000,"y":100,"s":"GC150"},{"x":2250,"y":98.5,"s":"GC150"},{"x":2500,"y":98.5,"s":"GC150"},{"x":2750,"y":100,"s":"GC150"},{"x":3000,"y":100,"s":"GC150"},{"x":3250,"y":98.5,"s":"GC150"},{"x":3500,"y":102,"s":"GC150"},{"x":3750,"y":98.5,"s":"GC150"},{"x":4000,"y":98.5,"s":"GC150"},{"x":4250,"y":98.5,"s":"GC150"},{"x":4500,"y":98.5,"s":"GC150"},{"x":4750,"y":98.5,"s":"GC150"},{"x":5000,"y":98.5,"s":"GC150"},{"x":5250,"y":98.5,"s":"GC150"},{"x":5500,"y":100,"s":"GC150"},{"x":5750,"y":100,"s":"GC150"},{"x":6000,"y":100,"s":"GC150"},{"x":6250,"y":100,"s":"GC150"},{"x":6500,"y":100,"s":"GC150"},{"x":6750,"y":100,"s":"GC150"},{"x":7000,"y":100,"s":"GC150"},{"x":7250,"y":100,"s":"GC150"},{"x":7500,"y":100,"s":"GC150"},{"x":7750,"y":100,"s":"GC150"},{"x":7900,"y":102,"s":"GC150"},{"x":8000,"y":100,"s":"GC150"},{"x":8250,"y":100,"s":"GC150"},{"x":8500,"y":100,"s":"GC150"},{"x":8750,"y":100,"s":"GC150"},{"x":9000,"y":100,"s":"GC150"},{"x":9250,"y":98.5,"s":"GC150"},{"x":9500,"y":98.5,"s":"GC150"},{"x":9750,"y":100,"s":"GC150"},{"x":10000,"y":100,"s":"GC150"},
    {"x":0,"y":100,"s":"GPGC150"},{"x":60,"y":98,"s":"GPGC150"},{"x":250,"y":100,"s":"GPGC150"},{"x":370,"y":98,"s":"GPGC150"},{"x":500,"y":100,"s":"GPGC150"},{"x":730,"y":98,"s":"GPGC150"},{"x":850,"y":100,"s":"GPGC150"},{"x":1000,"y":100,"s":"GPGC150"},{"x":1160,"y":98,"s":"GPGC150"},{"x":1300,"y":100,"s":"GPGC150"},{"x":1500,"y":100,"s":"GPGC150"},{"x":1750,"y":100,"s":"GPGC150"},{"x":2000,"y":100,"s":"GPGC150"},{"x":2250,"y":100,"s":"GPGC150"},{"x":2500,"y":100,"s":"GPGC150"},{"x":2750,"y":100,"s":"GPGC150"},{"x":3000,"y":100,"s":"GPGC150"},{"x":3250,"y":100,"s":"GPGC150"},{"x":3500,"y":100,"s":"GPGC150"},{"x":3750,"y":100,"s":"GPGC150"},{"x":3960,"y":98,"s":"GPGC150"},{"x":4100,"y":100,"s":"GPGC150"},{"x":4250,"y":100,"s":"GPGC150"},{"x":4450,"y":100,"s":"GPGC150"},{"x":4570,"y":98,"s":"GPGC150"},{"x":4700,"y":100,"s":"GPGC150"},{"x":4900,"y":100,"s":"GPGC150"},{"x":5100,"y":100,"s":"GPGC150"},{"x":5240,"y":98,"s":"GPGC150"},{"x":5320,"y":98,"s":"GPGC150"},{"x":5450,"y":100,"s":"GPGC150"},{"x":5600,"y":100,"s":"GPGC150"},{"x":5800,"y":100,"s":"GPGC150"},{"x":6000,"y":100,"s":"GPGC150"},{"x":6220,"y":98,"s":"GPGC150"},{"x":6300,"y":100,"s":"GPGC150"},{"x":6400,"y":98,"s":"GPGC150"},{"x":6550,"y":100,"s":"GPGC150"},{"x":6700,"y":100,"s":"GPGC150"},{"x":6830,"y":98,"s":"GPGC150"},{"x":6950,"y":100,"s":"GPGC150"},{"x":7130,"y":98,"s":"GPGC150"},{"x":7250,"y":100,"s":"GPGC150"},{"x":7380,"y":98,"s":"GPGC150"},{"x":7500,"y":100,"s":"GPGC150"},{"x":7680,"y":98,"s":"GPGC150"},{"x":7780,"y":100,"s":"GPGC150"},{"x":7870,"y":98,"s":"GPGC150"},{"x":8000,"y":100,"s":"GPGC150"},{"x":8110,"y":98,"s":"GPGC150"},{"x":8230,"y":100,"s":"GPGC150"},{"x":8350,"y":98,"s":"GPGC150"},{"x":8500,"y":100,"s":"GPGC150"},{"x":8650,"y":100,"s":"GPGC150"},{"x":8840,"y":98,"s":"GPGC150"},{"x":8950,"y":100,"s":"GPGC150"},{"x":9090,"y":98,"s":"GPGC150"},{"x":9200,"y":100,"s":"GPGC150"},{"x":9330,"y":98,"s":"GPGC150"},{"x":9450,"y":100,"s":"GPGC150"},{"x":9630,"y":98,"s":"GPGC150"},{"x":9750,"y":100,"s":"GPGC150"},{"x":9900,"y":98,"s":"GPGC150"},{"x":10000,"y":98,"s":"GPGC150"}
   ]},
   "layer":[
    {"mark":{"type":"point","opacity":0,"size":100,"strokeWidth":2,"filled":true},
     "encoding":{
      "x":{"field":"x","type":"quantitative","scale":{"domain":[0,10000],"nice":false}},
      "y":{"field":"y","type":"quantitative","scale":{"domain":[0,103],"nice":false}},
      "fill":{"field":"s","type":"nominal","scale":{"domain":["GC150","GPGC150"],"range":["black","#ff0000"]},"legend":{"orient":"none","legendX":136.5,"legendY":92,"title":null,"symbolSize":100,"labelFontSize":14,"rowPadding":3,"labelOffset":10.5}},
      "stroke":{"field":"s","type":"nominal","scale":{"domain":["GC150","GPGC150"],"range":["black","#ff0000"]},"legend":{"orient":"none","legendX":136.5,"legendY":92,"title":null,"symbolSize":100,"labelFontSize":14,"rowPadding":3,"labelOffset":10.5}},
      "shape":{"field":"s","type":"nominal","scale":{"domain":["GC150","GPGC150"],"range":["M-2.5,0H2.5M-0.6,-0.6H0.6V0.6H-0.6Z","M-2.5,0H2.5M0.7,0A0.7,0.7,0,1,1,-0.7,0A0.7,0.7,0,1,1,0.7,0Z"]},"legend":{"orient":"none","legendX":136.5,"legendY":92,"title":null,"symbolSize":100,"labelFontSize":14,"rowPadding":3,"labelOffset":10.5}}}},
    {"mark":{"type":"line","strokeWidth":2.5},
     "encoding":{
      "x":{"field":"x","type":"quantitative","scale":{"domain":[0,10000],"nice":false},"axis":{"values":[0,1000,2000,3000,4000,5000,6000,7000,8000,9000,10000],"format":"d","labelExpr":"datum.value % 2000 === 0 ? datum.label : ''","tickSize":{"condition":{"test":"datum.value % 2000 !== 0","value":2.5},"value":4},"title":"No. of cycles"}},
      "y":{"field":"y","type":"quantitative","scale":{"domain":[0,103],"nice":false},"axis":{"values":[0,10,20,30,40,50,60,70,80,90,100],"labelExpr":"datum.value % 20 === 0 ? datum.label : ''","tickSize":{"condition":{"test":"datum.value % 20 !== 0","value":2.5},"value":4},"title":"Coulombic efficiency (%)"}},
      "stroke":{"field":"s","type":"nominal","scale":{"domain":["GC150","GPGC150"],"range":["black","#ff0000"]},"legend":{"orient":"none","legendX":136.5,"legendY":92,"title":null,"symbolSize":100,"labelFontSize":14,"rowPadding":3,"labelOffset":10.5}}}},
    {"transform":[{"filter":"datum.s == 'GC150'"}],"mark":{"type":"square","size":30,"opacity":1,"color":"black"},
     "encoding":{"x":{"field":"x","type":"quantitative","scale":{"domain":[0,10000],"nice":false}},"y":{"field":"y","type":"quantitative","scale":{"domain":[0,103],"nice":false}}}},
    {"transform":[{"filter":"datum.s == 'GPGC150'"}],"mark":{"type":"circle","size":36,"opacity":1,"color":"#ff0000"},
     "encoding":{"x":{"field":"x","type":"quantitative","scale":{"domain":[0,10000],"nice":false}},"y":{"field":"y","type":"quantitative","scale":{"domain":[0,103],"nice":false}}}},
    {"data":{"values":[{}]},
     "mark":{"type":"text","text":"(f)","font":"Liberation Serif","fontSize":21,"fontWeight":"bold","align":"left","baseline":"middle","color":"black"},
     "encoding":{"x":{"datum":620,"type":"quantitative","scale":{"domain":[0,10000],"nice":false}},"y":{"datum":81.5,"type":"quantitative","scale":{"domain":[0,103],"nice":false}}}}
   ]}
]
}
